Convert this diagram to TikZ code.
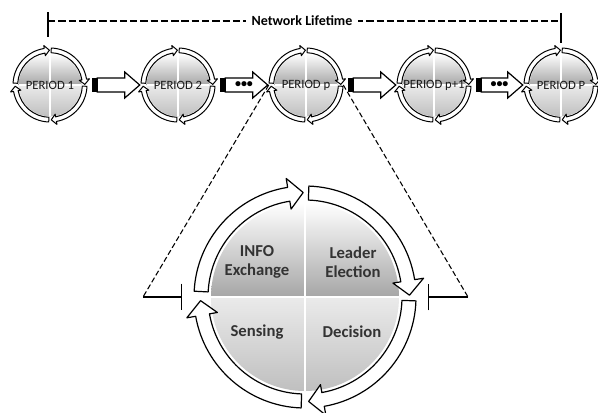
\documentclass[tikz,border=0pt]{standalone}
\usepackage{fontspec}
\setmainfont{Carlito}
\usetikzlibrary{arrows.meta,calc}

\begin{document}
\begin{tikzpicture}[x=0.75pt,y=0.75pt,
    ringarrow/.style={draw=black,fill=white,line join=round},
    blockarrow/.style={draw=black,line width=0.9pt,fill=white,line join=miter},
    period/.style={circle,minimum size=55.5pt,inner sep=0pt,font=\fontsize{9.5}{11}\selectfont,text=black!90},
    phase/.style={align=center,font=\fontsize{12.5}{14.5}\selectfont\bfseries,text=black!80},
    zoomline/.style={line width=0.8pt,dash pattern=on 4pt off 2pt}]
  \useasboundingbox (0,0) rectangle (598,412);

  \coordinate (lifeL) at (48,391);
  \coordinate (lifeR) at (561,391);
  \draw[line width=1pt,dash pattern=on 5.5pt off 2.2pt] (lifeL) -- (lifeR);
  \node[fill=white,inner xsep=4pt,font=\fontsize{10.5}{12}\selectfont\bfseries] (life) at (302,391) {Network Lifetime};
  \draw[line width=1pt] (lifeL) ++(0,9) -- ++(0,-25);
  \draw[line width=1pt] (lifeR) ++(0,8) -- ++(0,-30);

  \foreach \cx/\cy/\sc/\gw/\lw in {50/327/0.3333/0.9/0.75,178/327/0.3333/0.9/0.75,306/327/0.3333/0.9/0.75,434/327/0.3333/0.9/0.75,561/327/0.3333/0.9/0.75,305/115/1/2.2/0.9} {
    \begin{scope}[shift={(\cx,\cy)},scale=\sc]
      \shade[top color=white,bottom color=black!35] (0:94) arc[start angle=0,end angle=180,radius=94] -- cycle;
      \shade[top color=black!8,bottom color=black!25] (180:94) arc[start angle=180,end angle=360,radius=94] -- cycle;
      \draw[white,line width=\gw pt] (-94,0) -- (94,0) (0,-94) -- (0,94);
      \foreach[evaluate={\e+8} as \h] \s/\e in {177/91,88/1,-2/-88,-92/-178}
        \draw[ringarrow,line width=\lw pt] (\s:111) arc[start angle=\s,end angle=\h,radius=111] -- (\h:120) -- (\e:104.5) -- (\h:89) -- (\h:97) arc[start angle=\h,end angle=\s,radius=97] -- cycle;
    \end{scope}
  }

  \foreach[count=\i] \x/\v in {50/1,178/2,306/p,434/p+1,561/P} {
    \node[period] (p\i) at (\x,327) {PERIOD \v};
  }

  \foreach \a/\b in {1/2,2/3,3/4,4/5} {
    \fill ($(p\a.east)+(5,-7)$) rectangle ($(p\a.east)+(10,7)$);
    \draw[blockarrow] ($(p\a.east)+(10,7)$) -- ($(p\b.west)+(-16,7)$) -- ++(0,6) -- ($(p\b.west)+(-1,0)$) -- ($(p\b.west)+(-16,-13)$) -- ++(0,6) -- ($(p\a.east)+(10,-7)$) -- cycle;
  }
  \foreach \a/\b in {2/3,4/5} {
    \node[font=\fontsize{9}{10}\selectfont\bfseries,inner sep=0pt] (dots\a) at ($(p\a.east)!0.5!(p\b.west)+(2,0)$) {•••};
  }

  \coordinate (zoomL) at (143,115);
  \coordinate (zoomR) at (468,115);
  \coordinate (barL) at (182,115);
  \coordinate (barR) at (428,115);
  \draw[zoomline] (p3.west) -- (zoomL);
  \draw[zoomline] (p3.east) -- (zoomR);
  \draw[line width=0.9pt,-{Bar[width=20pt]}] (zoomL) -- (barL);
  \draw[line width=0.9pt,-{Bar[width=20pt]}] (zoomR) -- (barR);

  \node[phase] (info) at (257,150) {INFO\\Exchange};
  \node[phase] (leader) at (353,150) {Leader\\Election};
  \node[phase] (sense) at (257,80) {Sensing};
  \node[phase] (decide) at (352,80) {Decision};
\end{tikzpicture}
\end{document}
